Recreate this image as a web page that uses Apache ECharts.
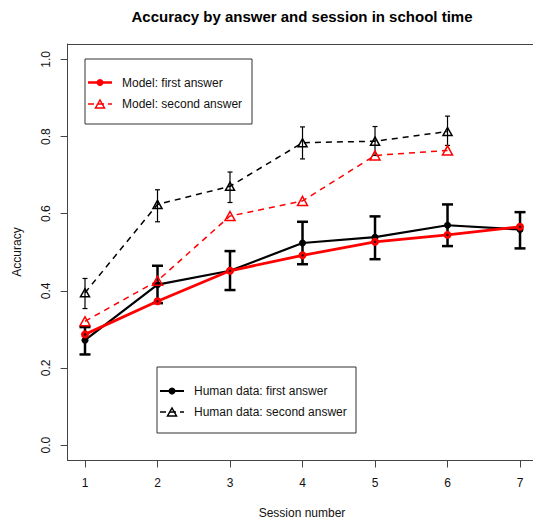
<!DOCTYPE html>
<html><head><meta charset="utf-8">
<script src="https://cdn.jsdelivr.net/npm/echarts@6/dist/echarts.min.js"></script>
<style>html,body{margin:0;padding:0;background:#fff}#c{width:533px;height:523px}</style>
</head><body><div id="c"></div>
<script>
// ---- data ----
const sessions = [1, 2, 3, 4, 5, 6, 7];
const xTicks = [1, 2, 3, 4, 5, 6, 7];
const yTicks = [0, 0.2, 0.4, 0.6, 0.8, 1.0];

const humanFirst   = [0.272, 0.416, 0.452, 0.524, 0.539, 0.570, 0.559];
const humanFirstLo = [0.235, 0.368, 0.402, 0.469, 0.482, 0.516, 0.510];
const humanFirstHi = [0.306, 0.465, 0.503, 0.579, 0.593, 0.624, 0.604];

const humanSecond   = [0.395, 0.624, 0.671, 0.784, 0.788, 0.813];
const humanSecondLo = [0.354, 0.579, 0.629, 0.742, 0.751, 0.777];
const humanSecondHi = [0.432, 0.662, 0.708, 0.825, 0.826, 0.853];

const modelFirst  = [0.287, 0.373, 0.452, 0.492, 0.527, 0.545, 0.566];
const modelSecond = [0.321, 0.426, 0.594, 0.633, 0.751, 0.764];

const titleText = 'Accuracy by answer and session in school time';
const xName = 'Session number';
const yName = 'Accuracy';
const legendModel = ['Model: first answer', 'Model: second answer'];
const legendHuman = ['Human data: first answer', 'Human data: second answer'];

// ---- chart ----
const FONT = '"Liberation Sans", Arial, Helvetica, sans-serif';
const chart = echarts.init(document.getElementById('c'), null, {renderer: 'svg'});
const pts = (ys) => ys.map((v, i) => [sessions[i], v]);

function errSeries(lo, hi, cap, lw, z) {
  return {
    type: 'custom', z: z, silent: true, clip: false,
    encode: {x: 0, y: [1, 2]},
    data: lo.map((l, i) => [sessions[i], l, hi[i]]),
    renderItem(params, api) {
      const x = api.value(0);
      const a = api.coord([x, api.value(1)]);
      const b = api.coord([x, api.value(2)]);
      const style = {stroke: '#000', lineWidth: lw};
      return {type: 'group', children: [
        {type: 'line', shape: {x1: a[0], y1: a[1], x2: b[0], y2: b[1]}, style: style},
        {type: 'line', shape: {x1: a[0] - cap, y1: a[1], x2: a[0] + cap, y2: a[1]}, style: style},
        {type: 'line', shape: {x1: b[0] - cap, y1: b[1], x2: b[0] + cap, y2: b[1]}, style: style}
      ]};
    }
  };
}

function tri(cx, cy, w, h, color, lw) {
  return {type: 'polygon', shape: {points: [[cx, cy - h / 2], [cx + w / 2, cy + h / 2], [cx - w / 2, cy + h / 2]]},
    style: {fill: 'none', stroke: color, lineWidth: lw}};
}
function legendBox(x, y, w, h, rows) {
  const ch = [{type: 'rect', shape: {x: x, y: y, width: w, height: h}, style: {fill: '#fff', stroke: '#333', lineWidth: 1}}];
  rows.forEach(r => {
    ch.push({type: 'line', shape: {x1: r.lx1, y1: r.y, x2: r.lx2, y2: r.y},
      style: {stroke: r.color, lineWidth: r.lw, lineDash: r.dash || null}});
    const cx = (r.lx1 + r.lx2) / 2;
    if (r.sym === 'circle') ch.push({type: 'circle', shape: {cx: cx, cy: r.y, r: 3.5}, style: {fill: r.color}});
    else ch.push(tri(cx, r.y, 9, 8, r.color, 1.5));
    ch.push({type: 'text', x: r.tx, y: r.y, style: {text: r.text, fill: '#111', font: '12px ' + FONT, verticalAlign: 'middle'}});
  });
  return {type: 'group', children: ch, z: 100};
}

const frameLine = {show: true, onZero: false, lineStyle: {color: '#444', width: 1}};
const option = {
  animation: false,
  backgroundColor: '#fff',
  grid: {left: 67.6, top: 44, right: 0, bottom: 62.5, show: false},
  xAxis: [{
    type: 'value', min: 0.76, max: 7.179,
    splitLine: {show: false},
    axisLine: frameLine,
    axisTick: {show: true, inside: false, length: 7, lineStyle: {color: '#444'}, customValues: xTicks},
    axisLabel: {customValues: xTicks, margin: 16, color: '#111', fontSize: 12, fontFamily: FONT}
  }, {
    type: 'value', position: 'top', min: 0.76, max: 7.179,
    splitLine: {show: false}, axisLine: frameLine, axisTick: {show: false}, axisLabel: {show: false}
  }],
  yAxis: {
    type: 'value', min: -0.04, max: 1.04,
    splitLine: {show: false},
    axisLine: frameLine,
    axisTick: {show: true, inside: false, length: 7, lineStyle: {color: '#444'}, customValues: yTicks},
    axisLabel: {customValues: yTicks, rotate: 90, margin: 16, color: '#111', fontSize: 12, fontFamily: FONT,
      formatter: v => Number(v).toFixed(1)}
  },
  graphic: [
    {type: 'text', x: 302, y: 16, style: {text: titleText, fill: '#000', font: 'bold 15px ' + FONT, align: 'center', verticalAlign: 'middle'}},
    {type: 'text', x: 302, y: 513, style: {text: xName, fill: '#111', font: '12px ' + FONT, align: 'center', verticalAlign: 'middle'}},
    {type: 'text', x: 17, y: 252, rotation: Math.PI / 2, style: {text: yName, fill: '#111', font: '12px ' + FONT, align: 'center', verticalAlign: 'middle'}},
    legendBox(85, 59, 167, 65, [
      {y: 82.5, lx1: 88, lx2: 112, color: '#f00', lw: 2.5, sym: 'circle', tx: 122, text: legendModel[0]},
      {y: 104, lx1: 88, lx2: 112, color: '#f00', lw: 1.5, dash: [6, 4], sym: 'tri', tx: 122, text: legendModel[1]}
    ]),
    legendBox(157, 367, 199, 66, [
      {y: 391, lx1: 160, lx2: 184, color: '#000', lw: 2, sym: 'circle', tx: 194, text: legendHuman[0]},
      {y: 412, lx1: 160, lx2: 184, color: '#000', lw: 1.5, dash: [6, 4], sym: 'tri', tx: 194, text: legendHuman[1]}
    ])
  ],
  series: [
    {type: 'line', z: 2, data: pts(humanSecond), symbol: 'triangle', symbolSize: [9, 8], showAllSymbol: true,
      lineStyle: {color: '#000', width: 1.5, type: [6, 5]},
      itemStyle: {color: 'rgba(0,0,0,0)', borderColor: '#000', borderWidth: 1.5}},
    errSeries(humanSecondLo, humanSecondHi, 2.5, 1.2, 3),
    {type: 'line', z: 4, data: pts(humanFirst), symbol: 'circle', symbolSize: 7, showAllSymbol: true,
      lineStyle: {color: '#000', width: 2.2},
      itemStyle: {color: '#000', borderWidth: 0}},
    errSeries(humanFirstLo, humanFirstHi, 5.5, 2.5, 5),
    {type: 'line', z: 6, data: pts(modelSecond), symbol: 'triangle', symbolSize: [10, 9], showAllSymbol: true,
      lineStyle: {color: '#f00', width: 1.5, type: [6, 5]},
      itemStyle: {color: 'rgba(0,0,0,0)', borderColor: '#f00', borderWidth: 1.5}},
    {type: 'line', z: 7, data: pts(modelFirst), symbol: 'circle', symbolSize: 8, showAllSymbol: true,
      lineStyle: {color: '#f00', width: 2.8},
      itemStyle: {color: '#f00', borderWidth: 0}},
    {type: 'scatter', z: 8, data: pts(modelFirst), symbol: 'circle', symbolSize: 2.5, silent: true,
      itemStyle: {color: '#000'}}
  ]
};
chart.setOption(option);
</script>
</body></html>
